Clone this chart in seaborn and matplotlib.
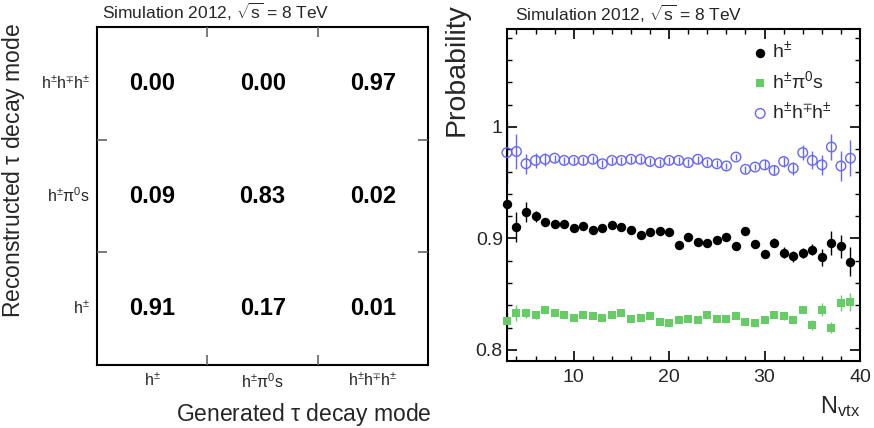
import numpy as np
import pandas as pd
import matplotlib
matplotlib.use('Agg')
import matplotlib.pyplot as plt
import seaborn as sns
from matplotlib.colors import ListedColormap
from matplotlib.ticker import MultipleLocator, FixedLocator, FuncFormatter

sns.set_style('ticks')
plt.rcParams['font.family'] = ['Liberation Sans', 'DejaVu Sans']
plt.rcParams['mathtext.fontset'] = 'custom'
plt.rcParams['mathtext.rm'] = 'Liberation Sans'
plt.rcParams['mathtext.it'] = 'Liberation Sans:italic'
plt.rcParams['mathtext.bf'] = 'Liberation Sans:bold'
plt.rcParams['mathtext.default'] = 'regular'

# decay modes
modes = [r'h$^{\pm}$', r'h$^{\pm}\pi^{0}$s', r'h$^{\pm}$h$^{\mp}$h$^{\pm}$']

# migration matrix, rows = reconstructed mode (top to bottom), cols = generated mode
reco_3prong = [0.00, 0.00, 0.97]
reco_1prong_pi0 = [0.09, 0.83, 0.02]
reco_1prong = [0.91, 0.17, 0.01]

# efficiency vs number of vertices
nvtx = [3, 4, 5, 6, 7, 8, 9, 10, 11, 12, 13, 14, 15, 16, 17, 18, 19, 20, 21,
        22, 23, 24, 25, 26, 27, 28, 29, 30, 31, 32, 33, 34, 35, 36, 37, 38, 39]
p_1prong = [0.931, 0.910, 0.924, 0.920, 0.915, 0.913, 0.913, 0.909, 0.911, 0.908,
            0.909, 0.912, 0.910, 0.908, 0.903, 0.906, 0.907, 0.906, 0.894, 0.901,
            0.897, 0.896, 0.899, 0.901, 0.893, 0.907, 0.895, 0.886, 0.896, 0.887,
            0.884, 0.887, 0.890, 0.883, 0.896, 0.893, 0.879]
e_1prong = [0.003, 0.0135, 0.009, 0.005, 0.002, 0.002, 0.002, 0.002, 0.002, 0.002,
            0.002, 0.002, 0.002, 0.002, 0.002, 0.002, 0.002, 0.002, 0.002, 0.002,
            0.002, 0.002, 0.002, 0.002, 0.002, 0.002, 0.003, 0.003, 0.004, 0.005,
            0.005, 0.0045, 0.005, 0.0075, 0.0105, 0.0105, 0.013]
p_1prong_pi0 = [0.826, 0.833, 0.833, 0.831, 0.836, 0.833, 0.831, 0.829, 0.831, 0.830,
                0.829, 0.831, 0.833, 0.828, 0.829, 0.830, 0.825, 0.824, 0.827, 0.828,
                0.827, 0.831, 0.828, 0.828, 0.830, 0.825, 0.824, 0.827, 0.831, 0.830,
                0.827, 0.836, 0.822, 0.836, 0.820, 0.842, 0.843]
e_1prong_pi0 = [0.008, 0.0075, 0.0045, 0.003, 0.002, 0.002, 0.002, 0.002, 0.002, 0.002,
                0.002, 0.002, 0.002, 0.002, 0.002, 0.002, 0.002, 0.002, 0.002, 0.002,
                0.002, 0.002, 0.002, 0.002, 0.002, 0.002, 0.002, 0.002, 0.002, 0.003,
                0.003, 0.003, 0.0045, 0.006, 0.005, 0.007, 0.008]
p_3prong = [0.977, 0.978, 0.967, 0.970, 0.971, 0.972, 0.970, 0.970, 0.970, 0.971,
            0.967, 0.970, 0.970, 0.971, 0.971, 0.969, 0.968, 0.970, 0.970, 0.968,
            0.971, 0.968, 0.967, 0.965, 0.973, 0.962, 0.964, 0.966, 0.961, 0.969,
            0.963, 0.977, 0.970, 0.966, 0.982, 0.965, 0.972]
e_3prong = [0.028, 0.016, 0.009, 0.007, 0.006, 0.003, 0.003, 0.003, 0.003, 0.003,
            0.003, 0.003, 0.003, 0.003, 0.003, 0.003, 0.003, 0.003, 0.003, 0.003,
            0.003, 0.003, 0.003, 0.003, 0.003, 0.003, 0.003, 0.004, 0.0045, 0.0045,
            0.006, 0.007, 0.008, 0.009, 0.012, 0.0135, 0.016]

black = '#000000'
green = '#66cc66'
blue = '#6666ff'
title = r'Simulation 2012, $\sqrt{s}$ = 8 TeV'

fig = plt.figure(figsize=(8.74, 4.28), dpi=100)
ax1 = fig.add_axes([0.111, 0.147, 0.379, 0.790])
ax2 = fig.add_axes([0.580, 0.1565, 0.404, 0.776])

# ---- left: migration matrix ----
df = pd.DataFrame([reco_3prong, reco_1prong_pi0, reco_1prong],
                  index=modes[::-1], columns=modes)
sns.heatmap(df, ax=ax1, cmap=ListedColormap(['white']), cbar=False,
            annot=True, fmt='.2f',
            annot_kws={'fontsize': 17, 'fontweight': 'bold', 'color': 'black'})
ax1.set_axisbelow(False)  # ticks point inwards, keep them above the white cells
for s in ax1.spines.values():
    s.set_visible(True)
    s.set_color('black')
    s.set_linewidth(1.5)
ax1.set_yticklabels(ax1.get_yticklabels(), rotation=0)
ax1.set_xticks([1, 2], minor=True)
ax1.set_yticks([1, 2], minor=True)
ax1.xaxis.set_tick_params(which='minor', direction='in', length=7, width=1.2,
                          color='0.4', bottom=True, top=True)
ax1.yaxis.set_tick_params(which='minor', direction='in', length=7, width=1.2,
                          color='0.4', left=True, right=True)
ax1.tick_params(which='major', length=0, labelsize=11.5, pad=5)
ax1.set_xlabel(r'Generated $\tau$ decay mode', fontsize=16.5, loc='right')
ax1.set_ylabel(r'Reconstructed $\tau$ decay mode', fontsize=16.5, loc='top')
ax1.xaxis.set_label_coords(1.01, -0.105)
ax1.yaxis.set_label_coords(-0.21, 1.01)
ax1.text(0.015, 1.012, title, transform=ax1.transAxes, fontsize=12.5,
         ha='left', va='bottom')

# ---- right: probability vs N_vtx ----
for p, e, c in [(p_1prong, e_1prong, black), (p_1prong_pi0, e_1prong_pi0, green),
                (p_3prong, e_3prong, blue)]:
    ax2.errorbar(nvtx, p, yerr=e, fmt='none', ecolor=c, elinewidth=1.0,
                 capsize=0, zorder=2, clip_on=False)

sns.scatterplot(x=nvtx, y=p_1prong, ax=ax2, marker='o', color=black, s=46,
                linewidth=0, label=r'h$^{\pm}$', zorder=3, clip_on=False)
sns.scatterplot(x=nvtx, y=p_1prong_pi0, ax=ax2, marker='s', color=green, s=40,
                linewidth=0, label=r'h$^{\pm}\pi^{0}$s', zorder=3, clip_on=False)
sns.scatterplot(x=nvtx, y=p_3prong, ax=ax2, marker='o', facecolors='none',
                edgecolor=blue, s=48, linewidth=1.0,
                label=r'h$^{\pm}$h$^{\mp}$h$^{\pm}$', zorder=3, clip_on=False)

ax2.set_xlim(3, 40)
ax2.set_ylim(0.79, 1.088)
ax2.xaxis.set_major_locator(FixedLocator([10, 20, 30, 40]))
ax2.xaxis.set_minor_locator(MultipleLocator(2))
ax2.yaxis.set_major_locator(FixedLocator([0.8, 0.9, 1.0]))
ax2.yaxis.set_minor_locator(MultipleLocator(0.02))
ax2.yaxis.set_major_formatter(FuncFormatter(lambda v, pos: '%g' % round(v, 2)))
ax2.tick_params(which='both', direction='in', top=True, right=True,
                labelsize=14, color='black')
ax2.tick_params(which='major', length=7.5, width=1.2)
ax2.tick_params(which='minor', length=3.8, width=1.0)
ax2.tick_params(axis='x', pad=6)
ax2.tick_params(axis='y', pad=3)
for s in ax2.spines.values():
    s.set_color('black')
    s.set_linewidth(1.5)

ax2.set_xlabel(r'N$_{vtx}$', fontsize=17, loc='right')
ax2.set_ylabel('Probability', fontsize=20.5, loc='top')
ax2.xaxis.set_label_coords(1.0, -0.1)
ax2.yaxis.set_label_coords(-0.105, 1.078)
ax2.text(0.023, 1.012, title, transform=ax2.transAxes, fontsize=12.5,
         ha='left', va='bottom')

ax2.legend(loc='upper right', bbox_to_anchor=(0.92, 0.965), frameon=False,
           fontsize=14, handletextpad=0.0, handlelength=1.2, labelspacing=0.45,
           borderaxespad=0, borderpad=0)

fig.savefig('out.png', dpi=100)
